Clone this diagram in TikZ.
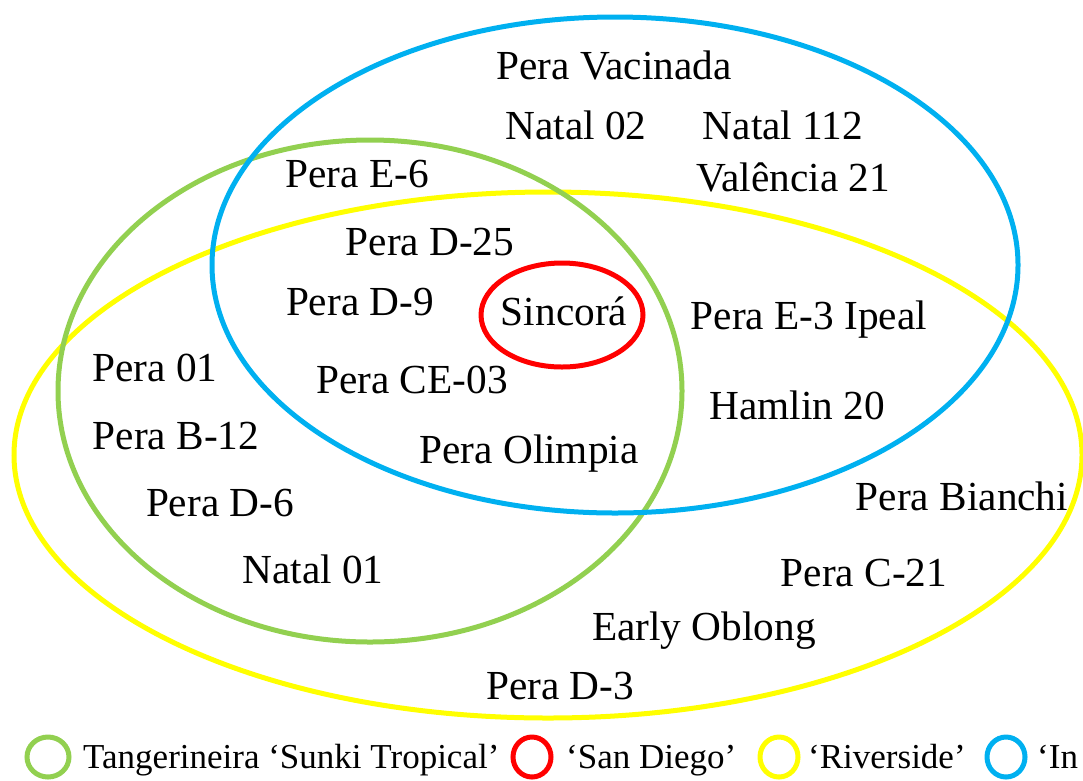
\documentclass[tikz,border=0pt]{standalone}
\usepackage{fontspec}
\setmainfont{Liberation Serif}
\definecolor{cgreen}{HTML}{92D050}
\definecolor{cblue}{HTML}{00B0F0}
\definecolor{cyellow}{HTML}{FFFF00}
\definecolor{cred}{HTML}{FF0000}
\begin{document}
\begin{tikzpicture}[x=1pt,y=-1pt,
  ring/.style={line width=5pt},
  lbl/.style={anchor=base,inner sep=0pt,font=\fontsize{41.3}{48}\selectfont},
  leg/.style={anchor=base west,inner sep=0pt,font=\fontsize{35}{40}\selectfont}]
\useasboundingbox (0,0) rectangle (1083,780);
\clip (0,0) rectangle (1083,780);
% sets
\draw[ring,cyellow] (548,455) ellipse [x radius=534, y radius=263];
\draw[ring,cgreen] (370,391) ellipse [x radius=312, y radius=251];
\draw[ring,cblue] (615,265) ellipse [x radius=403, y radius=248];
\draw[ring,cred] (562,315) ellipse [x radius=81, y radius=52];
% labels
\node[lbl] (t1) at (614,79) {Pera Vacinada};
\node[lbl] (t2) at (576,139) {Natal 02};
\node[lbl] (t3) at (783,139) {Natal 112};
\node[lbl] (t4) at (357,187) {Pera E-6};
\node[lbl] (t5) at (793,191) {Valência 21};
\node[lbl] (t6) at (430,255) {Pera D-25};
\node[lbl] (t7) at (360,315) {Pera D-9};
\node[lbl] (t8) at (564,325) {Sincorá};
\node[lbl] (t9) at (809,329) {Pera E-3 Ipeal};
\node[lbl] (t10) at (155,381) {Pera 01};
\node[lbl] (t11) at (412,393) {Pera CE-03};
\node[lbl] (t12) at (797,419) {Hamlin 20};
\node[lbl] (t13) at (176,449) {Pera B-12};
\node[lbl] (t14) at (529,463) {Pera Olimpia};
\node[lbl] (t15) at (220,516) {Pera D-6};
\node[lbl] (t16) at (962,510) {Pera Bianchi};
\node[lbl] (t17) at (313,583) {Natal 01};
\node[lbl] (t18) at (864,586) {Pera C-21};
\node[lbl] (t19) at (704,640) {Early Oblong};
\node[lbl] (t20) at (560,699) {Pera D-3};
% legend
\draw[ring,cgreen] (48,757) ellipse [x radius=21, y radius=20];
\node[leg] (l1) at (83,768) {Tangerineira ‘Sunki Tropical’};
\draw[ring,cred] (532,757) ellipse [x radius=19, y radius=20];
\node[leg] (l2) at (566,768) {‘San Diego’};
\draw[ring,cyellow] (779,757) ellipse [x radius=19, y radius=20];
\node[leg] (l3) at (808,768) {‘Riverside’};
\draw[ring,cblue] (1006,757) ellipse [x radius=19, y radius=20];
\node[leg] (l4) at (1037,768) {‘In};
\end{tikzpicture}
\end{document}
